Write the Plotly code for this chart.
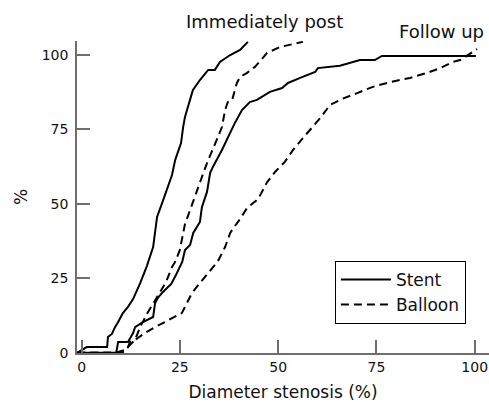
import plotly.graph_objects as go

# Cumulative distributions (x: diameter stenosis %, y: cumulative %)
stent_post_x = [-1.1, 1.3, 6.5, 6.7, 7.7, 8.5, 9.3, 10.5, 11.8, 13.1, 14.9, 16.6, 18.2, 18.7, 19.2,
                20.5, 21.7, 23.0, 23.8, 25.3, 25.8, 26.3, 28.3, 30.1, 32.2, 33.9, 35.2, 37.8, 40.3, 42.3]
stent_post_y = [0, 1.9, 1.9, 5.3, 6.3, 8.6, 10.3, 13.3, 15.4, 18.0, 23.4, 29.1, 35.5, 41.2, 45.6,
                50.3, 54.7, 59.7, 64.7, 70.4, 75.5, 79.2, 88.2, 91.6, 95.0, 95.0, 97.7, 100.0, 101.7, 104.4]

balloon_post_x = [-1.1, 8.5, 11.0, 12.3, 13.6, 14.9, 16.9, 19.4, 21.5, 22.5, 23.0, 23.8, 25.0, 25.5,
                  26.3, 27.6, 28.9, 30.6, 31.9, 33.2, 34.7, 35.7, 36.5, 37.2, 38.3, 39.5, 40.3, 42.1,
                  44.1, 47.2, 50.5, 56.3]
balloon_post_y = [0, 0, 0.9, 2.6, 4.3, 8.6, 13.7, 19.1, 23.8, 27.1, 28.8, 30.5, 34.5, 37.9,
                  43.2, 47.9, 53.0, 59.0, 63.7, 68.1, 72.5, 75.8, 81.5, 84.2, 84.9, 90.6, 92.6, 94.0,
                  96.0, 100.7, 102.7, 104.4]

stent_fu_x = [-1.1, 8.8, 9.3, 11.8, 13.1, 13.6, 15.6, 18.2, 18.7, 19.4, 20.7, 22.8, 24.0, 25.6, 26.3,
              27.6, 28.4, 30.1, 30.6, 31.9, 32.7, 33.4, 35.7, 37.2, 39.0, 40.8, 42.8, 44.6, 46.7,
              47.9, 51.0, 52.5, 55.6, 59.4, 60.1, 65.7, 70.8, 74.6, 76.4, 100.3]
stent_fu_y = [0, 0, 3.6, 3.6, 6.6, 8.6, 10.3, 12.0, 16.7, 18.4, 20.4, 23.1, 26.1, 30.5, 34.5,
              36.2, 40.2, 43.9, 48.9, 54.0, 60.4, 62.4, 68.1, 72.5, 77.2, 81.5, 84.2, 84.9, 86.6,
              87.6, 88.9, 90.6, 92.3, 94.3, 95.6, 96.4, 98.3, 98.3, 99.7, 99.7]

balloon_fu_x = [-1.1, 10.3, 11.6, 12.3, 13.6, 16.1, 18.7, 22.0, 25.5, 26.8, 28.1, 30.1, 32.7, 34.7,
                36.5, 37.8, 38.8, 40.3, 42.1, 44.9, 47.2, 49.2, 51.7, 53.8, 56.3, 58.6, 60.7, 63.2,
                66.2, 70.1, 74.1, 78.5, 83.5, 87.9, 91.2, 94.5, 96.3, 98.0, 99.6, 100.6]
balloon_fu_y = [0, 0, 1.2, 3.6, 4.3, 6.6, 8.6, 11.0, 13.3, 16.7, 20.1, 23.4, 27.4, 30.8,
                35.5, 40.2, 42.2, 44.9, 48.6, 51.6, 57.3, 60.7, 64.1, 68.1, 72.1, 75.5, 78.8, 83.2,
                85.2, 87.2, 89.3, 90.9, 92.3, 94.0, 95.6, 97.7, 98.3, 99.7, 101.0, 102.0]

tick_values = [0, 25, 50, 75, 100]
series_names = ["Stent", "Balloon"]
label_post = "Immediately post"
label_fu = "Follow up"

FONT = "DejaVu Sans"
solid = dict(color="black", width=2)
dashed = dict(color="black", width=2, dash="8px,5px")

fig = go.Figure()
fig.add_trace(go.Scatter(x=stent_post_x, y=stent_post_y, mode="lines", line=solid,
                         name=series_names[0], legendgroup="s"))
fig.add_trace(go.Scatter(x=balloon_post_x, y=balloon_post_y, mode="lines", line=dashed,
                         name=series_names[1], legendgroup="b"))
fig.add_trace(go.Scatter(x=stent_fu_x, y=stent_fu_y, mode="lines", line=solid,
                         name=series_names[0], legendgroup="s", showlegend=False))
fig.add_trace(go.Scatter(x=balloon_fu_x, y=balloon_fu_y, mode="lines", line=dashed,
                         name=series_names[1], legendgroup="b", showlegend=False))

axis_common = dict(
    showgrid=False, zeroline=False, showline=True, linecolor="#6e6e6e", linewidth=1.5,
    ticks="inside", ticklen=13, tickwidth=1.5, tickcolor="#6e6e6e",
    tickvals=tick_values, tickfont=dict(family=FONT, size=14, color="#111"),
    automargin=False,
)

fig.update_layout(
    width=489, height=402,
    margin=dict(l=77, r=0, t=41, b=49, pad=0),
    paper_bgcolor="white", plot_bgcolor="white",
    font=dict(family=FONT, color="#111"),
    xaxis=dict(range=[-1.17, 103.64], title=dict(text="Diameter stenosis (%)",
               font=dict(family=FONT, size=17), standoff=13), **axis_common),
    yaxis=dict(range=[-0.1, 104.7], title=dict(text="%", font=dict(family=FONT, size=17), standoff=10),
               ticklabelstandoff=4, **axis_common),
    legend=dict(x=0.626, y=0.295, xanchor="left", yanchor="top", bordercolor="black", borderwidth=1,
                bgcolor="white", font=dict(family=FONT, size=17), itemwidth=50,
                tracegroupgap=0),
    annotations=[
        dict(text=label_post, xref="paper", yref="paper", x=0.2597, y=1.061, xanchor="left",
             yanchor="middle", showarrow=False, font=dict(family=FONT, size=18, color="#111")),
        dict(text=label_fu, xref="paper", yref="paper", x=0.776, y=1.032, xanchor="left",
             yanchor="middle", showarrow=False, font=dict(family=FONT, size=18, color="#111")),
    ],
)

fig.write_html("out.html", config={"displayModeBar": False},
               post_script="document.body.style.margin='0';")
